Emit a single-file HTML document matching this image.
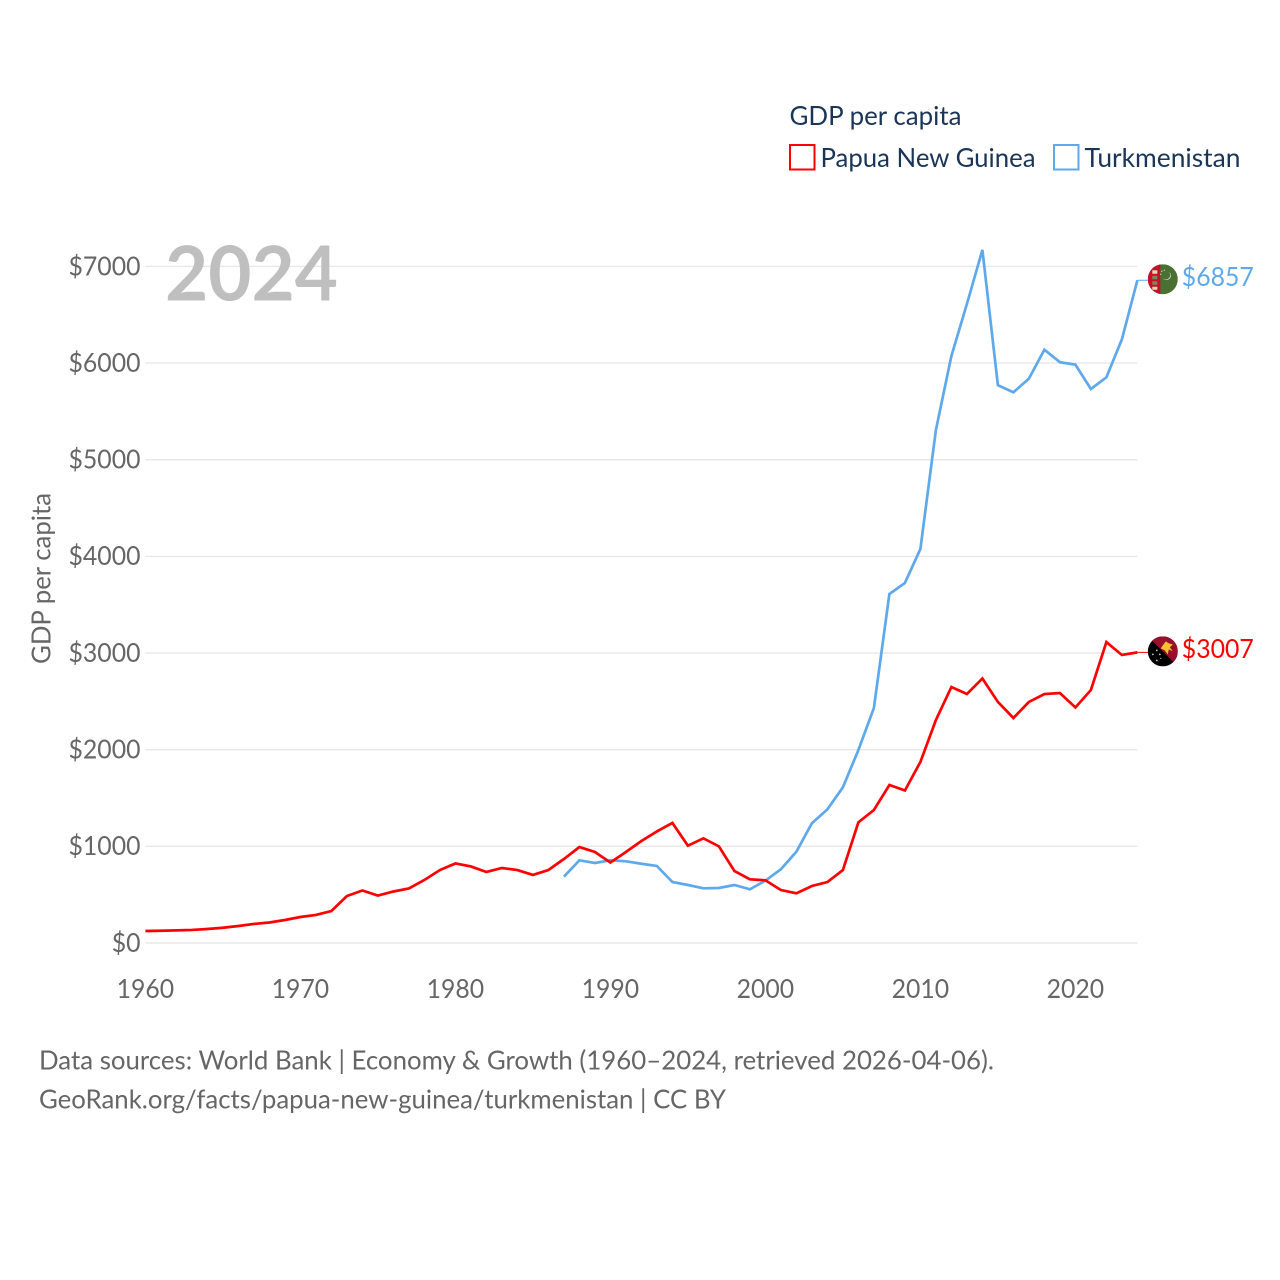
<!DOCTYPE html>
<html lang="en">
<head>
<meta charset="utf-8">
<title>GDP per capita: Papua New Guinea and Turkmenistan</title>
<style>
html,body{margin:0;padding:0;background:#fff;}
svg{display:block;}
text{font-family:"Lato","Carlito","Liberation Sans",sans-serif;}
</style>
</head>
<body>
<svg id="chart" width="1280" height="1280" viewBox="0 0 1280 1280" xmlns="http://www.w3.org/2000/svg">
  <defs>
    <clipPath id="flag-clip"><circle cx="0" cy="0" r="15"></circle></clipPath>
  </defs>
  <rect width="1280" height="1280" fill="#ffffff"></rect>
  <g id="grid"></g>
  <g id="yticks"></g>
  <g id="xticks"></g>
  <text transform="translate(50.5,578.5) rotate(-90)" text-anchor="middle" font-size="26" fill="#666666" textLength="171" lengthAdjust="spacingAndGlyphs">GDP per capita</text>
  <text x="165" y="300.5" font-size="76" font-weight="700" fill="#bfbfbf" textLength="173" lengthAdjust="spacingAndGlyphs">2024</text>

  <g id="series"></g>

  <g id="flag-tm">
    <g clip-path="url(#flag-clip)">
      <rect x="-15" y="-15" width="30" height="30" fill="#4a7033"></rect>
      <rect x="-15" y="-15" width="12.5" height="30" fill="#c8102e"></rect>
      <rect x="-10.5" y="-9" width="5" height="3.5" fill="#e8d8b0"></rect>
      <rect x="-10.5" y="-3.5" width="5" height="3.5" fill="#7a8a50"></rect>
      <rect x="-10.5" y="2" width="5" height="3.5" fill="#7a8a50"></rect>
      <rect x="-10.5" y="7.5" width="5" height="3" fill="#e8d8b0"></rect>
      <path d="M6 -7.5 A4.5 4.5 0 1 1 0 -1 A4 4 0 0 0 6 -7.5 Z" fill="#cdd4bc"></path>
      <circle cx="-1" cy="-8" r="0.7" fill="#cdd4bc"></circle>
      <circle cx="1.5" cy="-9" r="0.7" fill="#cdd4bc"></circle>
      <circle cx="-2" cy="-5" r="0.7" fill="#cdd4bc"></circle>
    </g>
  </g>
  <g id="flag-pg">
    <g clip-path="url(#flag-clip)">
      <rect x="-15" y="-15" width="30" height="30" fill="#000000"></rect>
      <path d="M-15 -15 L15 -15 L15 15 Z" fill="#9c0f2b"></path>
      <path d="M0 -6 L3 -10 L6 -8 L10 -7 L7 -4 L10 0 L6 -2 L5 3 L2 -1 L-2 -3 Z" fill="#f2c230"></path>
      <circle cx="-6" cy="-1" r="0.9" fill="#c9c9c9"></circle>
      <circle cx="-10" cy="3" r="0.9" fill="#c9c9c9"></circle>
      <circle cx="-3" cy="3" r="0.9" fill="#c9c9c9"></circle>
      <circle cx="-6" cy="9" r="0.9" fill="#c9c9c9"></circle>
      <circle cx="-2" cy="7" r="0.6" fill="#c9c9c9"></circle>
    </g>
  </g>
  <g id="value-labels"></g>

  <g>
    <text x="789.5" y="125" font-size="26.5" fill="#1a3557" textLength="172" lengthAdjust="spacingAndGlyphs">GDP per capita</text>
    <g>
      <rect x="790" y="145" width="24.5" height="24.5" fill="none" stroke="#ff0000" stroke-width="2"></rect>
      <text x="820.5" y="167" font-size="26.5" fill="#1a3557" textLength="215" lengthAdjust="spacingAndGlyphs">Papua New Guinea</text>
    </g>
    <g>
      <rect x="1054" y="145" width="24.5" height="24.5" fill="none" stroke="#5ea9ec" stroke-width="2"></rect>
      <text x="1084.5" y="167" font-size="26.5" fill="#1a3557" textLength="156" lengthAdjust="spacingAndGlyphs">Turkmenistan</text>
    </g>
  </g>

  <text x="39" y="1069.5" font-size="26" fill="#666666" textLength="955" lengthAdjust="spacingAndGlyphs">Data sources: World Bank | Economy &amp; Growth (1960–2024, retrieved 2026-04-06).</text>
  <text x="39" y="1108.5" font-size="26" fill="#666666" textLength="687" lengthAdjust="spacingAndGlyphs">GeoRank.org/facts/papua-new-guinea/turkmenistan | CC BY</text>
</svg>
<script>
const yTickValues = [0, 1000, 2000, 3000, 4000, 5000, 6000, 7000];
const xTickYears = [1960, 1970, 1980, 1990, 2000, 2010, 2020];
const pngStartYear = 1960;
const pngValues = [
  124, 127, 131, 135, 145, 158, 176, 197, 212, 238,
  269, 290, 331, 486, 543, 491, 533, 564, 652, 755,
  823, 792, 735, 776, 755, 704, 755, 869, 993, 942,
  833, 942, 1055, 1154, 1242, 1007, 1083, 1000, 745, 659,
  649, 548, 514, 590, 631, 755, 1249, 1376, 1635, 1578,
  1873, 2307, 2649, 2576, 2737, 2494, 2328, 2494, 2576, 2587,
  2437, 2618, 3114, 2980, 3007
];
const tkmStartYear = 1987;
const tkmValues = [
  686, 856, 828, 856, 845, 820, 797, 631, 600, 566,
  569, 600, 556, 645, 763, 945, 1239, 1383, 1611, 1997,
  2432, 3611, 3725, 4077, 5308, 6074, 6612, 7171, 5771, 5698,
  5839, 6139, 6009, 5984, 5732, 5853, 6246, 6857
];

const NS = 'http://www.w3.org/2000/svg';
function xScale(year) { return 145.4 + (year - 1960) * 15.5; }
function yScale(value) { return 943 - value * 0.09665; }
function make(tag, attrs, parent) {
  const el = document.createElementNS(NS, tag);
  for (const k in attrs) el.setAttribute(k, attrs[k]);
  parent.appendChild(el);
  return el;
}

const grid = document.getElementById('grid');
const yticks = document.getElementById('yticks');
yTickValues.forEach(function (v) {
  const line = make('line', { x1: xScale(1960), x2: xScale(2024), y1: yScale(v), y2: yScale(v), stroke: '#e8e8e8', 'stroke-width': 1.4 }, grid);
  
  
  const label = '$' + v;
  const t = make('text', { x: 140.5, y: yScale(v) + 8.8, 'text-anchor': 'end', 'font-size': 26, fill: '#666666', textLength: label.length * 14.4, lengthAdjust: 'spacingAndGlyphs' }, yticks);
  t.textContent = label;
  
  
});

const xticks = document.getElementById('xticks');
xTickYears.forEach(function (yr) {
  const t = make('text', { x: xScale(yr), y: 998, 'text-anchor': 'middle', 'font-size': 26, fill: '#666666', textLength: 57.5, lengthAdjust: 'spacingAndGlyphs' }, xticks);
  t.textContent = String(yr);
  
  
});

const seriesGroup = document.getElementById('series');
const valueLabels = document.getElementById('value-labels');
function drawSeries(values, startYear, color, slug, flagId) {
  const pts = values.map(function (v, i) {
    return xScale(startYear + i).toFixed(2) + ',' + yScale(v).toFixed(2);
  }).join(' ');
  const line = make('polyline', { points: pts, fill: 'none', stroke: color, 'stroke-width': 2.7, 'stroke-linejoin': 'miter' }, seriesGroup);
  
  
  const last = values[values.length - 1];
  const lastX = xScale(startYear + values.length - 1);
  const lastY = yScale(last);
  const conn = make('line', { x1: lastX, x2: lastX + 12, y1: lastY, y2: lastY, stroke: color, 'stroke-width': 1 }, seriesGroup);
  
  
  document.getElementById(flagId).setAttribute('transform', 'translate(' + (lastX + 25.4) + ',' + (lastY - 1) + ')');
  const label = '$' + last;
  const t = make('text', { x: lastX + 44.4, y: lastY + 5.6, 'font-size': 26, fill: color, textLength: 72, lengthAdjust: 'spacingAndGlyphs' }, valueLabels);
  t.textContent = label;
  
  
}
drawSeries(tkmValues, tkmStartYear, '#5ea9ec', 'turkmenistan', 'flag-tm');
drawSeries(pngValues, pngStartYear, '#ff0000', 'papua-new-guinea', 'flag-pg');
</script>
</body>
</html>
